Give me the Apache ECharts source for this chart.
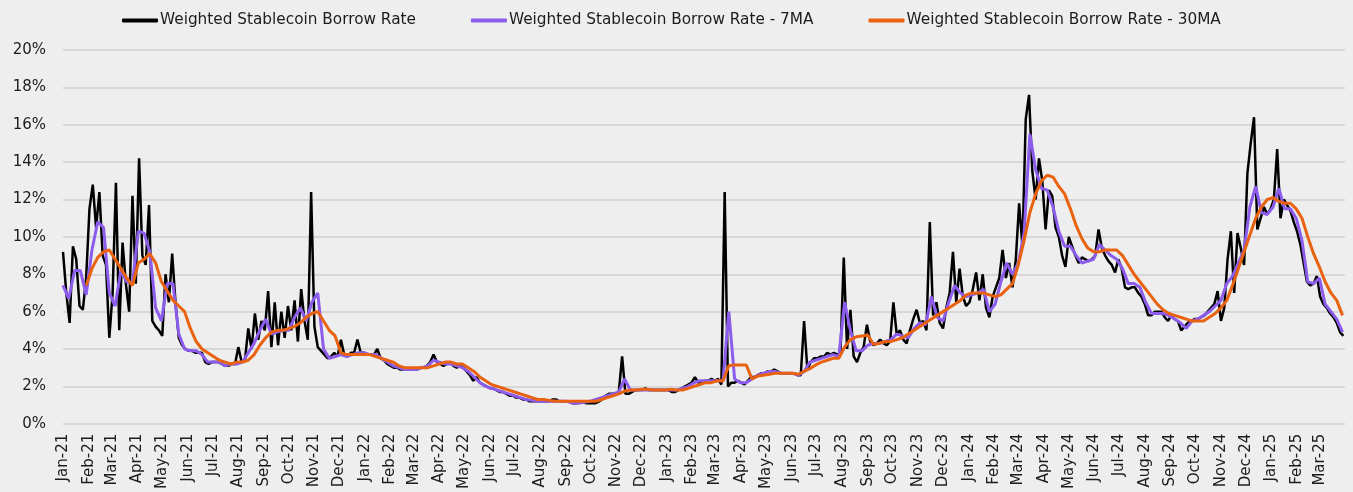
<!DOCTYPE html>
<html>
<head>
<meta charset="utf-8">
<script src="https://cdn.jsdelivr.net/npm/echarts@6/dist/echarts.min.js"></script>
<style>
  html, body { margin: 0; padding: 0; background: #eeeeee; }
  #chart { width: 1353px; height: 492px; }
</style>
</head>
<body>
<div id="chart"></div>
<script>
// daily axis: 2021-01-01 .. 2025-03-31
var startDate = Date.UTC(2021, 0, 1);
var dayCount = 1551;

// borrow rate (%), one reading every 4 days from 2021-01-01
var blackStep = 4;
var borrowRate = [
  9.2, 7.0, 5.4, 9.5, 8.8, 6.3, 6.1, 7.8, 11.5, 12.8, 10.5, 12.4, 9.0, 8.5, 4.6, 7.0,
  12.9, 5.0, 9.7, 7.5, 6.0, 12.2, 7.5, 14.2, 9.0, 8.5, 11.7, 5.5, 5.2, 5.0, 4.7, 8.0,
  6.5, 9.1, 6.5, 4.6, 4.2, 4.0, 3.9, 3.9, 3.8, 3.8, 3.8, 3.3, 3.2, 3.3, 3.3, 3.3,
  3.2, 3.1, 3.1, 3.2, 3.2, 4.1,
  3.3, 3.4, 5.1, 4.0, 5.9, 4.5, 5.5, 5.0, 7.1, 4.1, 6.5, 4.2, 6.0, 4.6, 6.3, 5.0,
  6.6, 4.4, 7.2, 5.5, 4.5, 12.4, 5.2, 4.1, 3.9, 3.7, 3.5, 3.6, 3.8, 3.6, 4.5, 3.7,
  3.6, 3.8, 3.8, 4.5, 3.8, 3.8, 3.7, 3.7, 3.7, 4.0, 3.5, 3.4, 3.2, 3.1, 3.0, 3.0,
  2.9, 2.9, 2.9, 2.9, 2.9, 2.9, 3.0, 3.0, 3.1, 3.3, 3.7, 3.3, 3.2, 3.1, 3.2, 3.3,
  3.1, 3.0,
  3.1, 3.0, 2.8, 2.6, 2.3, 2.5, 2.2, 2.1, 2.0, 1.9, 1.9, 1.8, 1.7, 1.7, 1.6, 1.5,
  1.5, 1.4, 1.4, 1.3, 1.3, 1.2, 1.2, 1.2, 1.2, 1.2, 1.2, 1.2, 1.3, 1.3, 1.2, 1.2,
  1.2, 1.2, 1.1, 1.1, 1.2, 1.2, 1.1, 1.1, 1.1, 1.1, 1.2, 1.3, 1.5, 1.6, 1.6, 1.6,
  1.7, 3.6, 1.6, 1.6, 1.7, 1.8, 1.8, 1.8, 1.9, 1.8, 1.8, 1.8, 1.8, 1.8,
  1.8, 1.8, 1.7, 1.7, 1.8, 1.9, 2.0, 2.1, 2.2, 2.5, 2.2, 2.2, 2.3, 2.3, 2.4, 2.3,
  2.4, 2.1, 12.4, 2.0, 2.2, 2.2, 2.3, 2.2, 2.1, 2.3, 2.5, 2.5, 2.6, 2.7, 2.7, 2.8,
  2.8, 2.9, 2.8, 2.7, 2.7, 2.7, 2.7, 2.7, 2.6, 2.6, 5.5, 2.9, 3.3, 3.5, 3.5, 3.6,
  3.6, 3.8, 3.7, 3.8, 3.7, 3.8, 8.9, 4.0, 6.1, 3.6, 3.3, 3.8, 4.1, 5.3, 4.4, 4.2,
  4.3, 4.5, 4.3, 4.2, 4.4, 6.5, 4.8,
  5.0, 4.5, 4.3, 5.0, 5.6, 6.1, 5.4, 5.5, 5.0, 10.8, 5.8, 6.5, 5.4, 5.1, 6.2, 7.0,
  9.2, 6.5, 8.3, 6.8, 6.3, 6.5, 7.2, 8.1, 6.6, 8.0, 6.2, 5.7, 6.8, 7.3, 7.8, 9.3,
  7.8, 8.6, 7.3, 8.8, 11.8, 9.5, 16.3, 17.6, 13.5, 12.0, 14.2, 13.0, 10.4, 12.5, 12.2, 10.5,
  10.0, 9.0, 8.4, 10.0, 9.5, 9.0, 8.6, 8.9, 8.8, 8.7, 8.8, 9.0, 10.4, 9.4, 9.0, 8.7,
  8.5, 8.1, 8.8,
  8.3, 7.3, 7.2, 7.3, 7.3, 7.0, 6.8, 6.4, 5.8, 5.8, 6.0, 6.0, 6.0, 5.7, 5.5, 5.8,
  5.6, 5.5, 5.0, 5.2, 5.4, 5.5, 5.6, 5.6, 5.7, 5.8, 6.0, 6.2, 6.4, 7.1, 5.5, 6.2,
  8.8, 10.3, 7.0, 10.2, 9.4, 8.5, 13.4, 15.0, 16.4, 10.4, 11.0, 11.6, 11.2, 11.5, 12.0, 14.7,
  11.0, 12.0, 11.7, 11.4, 10.8, 10.3, 9.6, 8.6, 7.6, 7.4, 7.5, 7.9, 6.8, 6.4, 6.2, 5.9,
  5.7, 5.4, 4.9, 4.7
];

// 7-day and 30-day moving averages (%), one reading per week
var weekStep = 7;
var rate7MA = [
  7.4, 6.7, 8.2, 8.2, 6.9, 9.3, 10.8, 10.5, 7.0, 6.3, 8.2, 7.6, 7.5, 10.3, 10.2, 9.2,
  6.2, 5.5, 7.5, 7.5, 4.8, 4.0, 3.9, 3.9, 3.7, 3.3, 3.3, 3.3, 3.1, 3.2, 3.2,
  3.3, 3.8, 4.3, 5.0, 5.6, 4.8, 4.9, 5.0, 5.0, 5.7, 6.2, 5.5, 6.5, 7.0, 4.0, 3.5,
  3.6, 3.7, 3.6, 3.7, 3.8, 3.8, 3.7, 3.7, 3.5, 3.3, 3.1, 3.0, 2.9, 2.9, 2.9, 3.0,
  3.1, 3.4, 3.3, 3.2, 3.2, 3.1,
  3.0, 2.8, 2.5, 2.2, 2.0, 1.9, 1.8, 1.7, 1.6, 1.5, 1.4, 1.3, 1.25, 1.2, 1.2, 1.2,
  1.2, 1.2, 1.2, 1.1, 1.1, 1.15, 1.2, 1.3, 1.4, 1.5, 1.6, 1.7, 2.4, 1.8, 1.8, 1.8,
  1.8, 1.8, 1.8, 1.8, 1.8,
  1.8, 1.9, 2.0, 2.2, 2.3, 2.3, 2.3, 2.3, 2.3, 6.0, 2.4, 2.2, 2.2, 2.4, 2.6, 2.7,
  2.8, 2.8, 2.7, 2.7, 2.7, 2.6, 2.8, 3.3, 3.4, 3.5, 3.6, 3.7, 3.6, 6.5, 5.0, 3.9,
  3.9, 4.2, 4.3, 4.3, 4.4, 4.5, 4.8,
  4.7, 4.6, 5.1, 5.4, 5.3, 6.8, 5.7, 5.5, 6.5, 7.4, 7.0, 6.8, 6.9, 7.0, 7.2, 6.0,
  6.4, 7.6, 8.6, 8.0, 8.6, 10.2, 15.5, 13.6, 12.6, 12.5, 11.6, 10.3, 9.5, 9.5, 9.0, 8.6,
  8.7, 8.8, 9.6, 9.3, 9.0, 8.8,
  8.3, 7.5, 7.5, 7.3, 6.5, 5.9, 5.9, 5.9, 5.8, 5.6, 5.4, 5.1, 5.5, 5.6, 5.8, 6.0,
  6.3, 6.6, 7.5, 7.9, 8.6, 9.3, 11.6, 12.7, 11.3, 11.2, 11.6, 12.6, 11.5, 11.5, 11.0, 9.8,
  7.6, 7.5, 7.8, 6.4, 6.0, 5.6, 4.9
];
var rate30MA = [
  null, null, null, null, 7.4, 8.3, 8.9, 9.2, 9.3, 8.8, 8.3, 7.8, 7.4, 8.6, 8.8, 9.1,
  8.6, 7.6, 7.1, 6.6, 6.3, 6.0, 5.1, 4.4, 4.0, 3.8, 3.6, 3.4, 3.3, 3.2, 3.3,
  3.3, 3.4, 3.7, 4.2, 4.6, 4.9, 5.0, 5.0, 5.1, 5.2, 5.4, 5.7, 5.9, 6.0, 5.5, 5.0,
  4.7, 3.8, 3.7, 3.7, 3.7, 3.7, 3.7, 3.6, 3.5, 3.4, 3.3, 3.1, 3.0, 3.0, 3.0, 3.0,
  3.0, 3.1, 3.2, 3.3, 3.3, 3.2,
  3.2, 3.0, 2.8, 2.5, 2.3, 2.1, 2.0, 1.9, 1.8, 1.7, 1.6, 1.5, 1.4, 1.3, 1.3, 1.25,
  1.2, 1.2, 1.2, 1.2, 1.2, 1.2, 1.2, 1.2, 1.3, 1.4, 1.5, 1.6, 1.75, 1.8, 1.8, 1.85,
  1.85, 1.8, 1.8, 1.8, 1.85,
  1.8, 1.8, 1.9, 2.0, 2.1, 2.2, 2.2, 2.3, 2.3, 3.1, 3.15, 3.15, 3.15, 2.4, 2.55, 2.6,
  2.65, 2.7, 2.7, 2.7, 2.7, 2.65, 2.8, 2.95, 3.15, 3.3, 3.4, 3.5, 3.5, 4.1, 4.5, 4.65,
  4.7, 4.75, 4.25, 4.3, 4.4, 4.4, 4.5,
  4.6, 4.8, 5.0, 5.2, 5.4, 5.6, 5.8, 6.0, 6.2, 6.4, 6.6, 6.9, 7.0, 7.0, 7.0, 6.9,
  6.8, 6.9, 7.2, 7.5, 8.5, 9.8, 11.3, 12.3, 13.0, 13.3, 13.2, 12.7, 12.3, 11.5, 10.6, 9.9,
  9.4, 9.2, 9.2, 9.3, 9.3, 9.3,
  9.0, 8.5, 8.0, 7.6, 7.2, 6.8, 6.4, 6.1, 5.9, 5.8, 5.7, 5.6, 5.5, 5.5, 5.5, 5.7,
  5.9, 6.2, 6.6, 7.4, 8.3, 9.2, 10.1, 11.0, 11.6, 12.0, 12.1, 11.9, 11.8, 11.8, 11.5, 11.0,
  10.0, 9.1, 8.4, 7.6, 7.0, 6.6, 5.8
];

var yTicks = { min: 0, max: 20, interval: 2 };
var monthNames = ['Jan', 'Feb', 'Mar', 'Apr', 'May', 'Jun', 'Jul', 'Aug', 'Sep', 'Oct', 'Nov', 'Dec'];

var days = [];
for (var i = 0; i < dayCount; i++) {
  days.push(new Date(startDate + i * 86400000).toISOString().slice(0, 10));
}

function toPoints(values, step) {
  var out = [];
  values.forEach(function (v, k) {
    if (v != null) out.push([k * step, v]);
  });
  return out;
}

var chart = echarts.init(document.getElementById('chart'));
var font = '"DejaVu Sans", sans-serif';
var ink = '#1c1c1c';

chart.setOption({
  backgroundColor: '#eeeeee',
  animation: false,
  color: ['#000000', '#8c5cec', '#e8620f'],
  legend: {
    top: 13,
    left: 122,
    padding: 0,
    itemWidth: 36,
    itemHeight: 4,
    itemGap: 55,
    icon: 'roundRect',
    textStyle: { color: ink, fontSize: 15.3, fontFamily: font, padding: [0, 0, 0, -3] },
    data: ['Weighted Stablecoin Borrow Rate', 'Weighted Stablecoin Borrow Rate - 7MA', 'Weighted Stablecoin Borrow Rate - 30MA']
  },
  grid: { left: 63, right: 8, top: 50, bottom: 65 },
  xAxis: {
    type: 'category',
    data: days,
    boundaryGap: false,
    axisLine: { show: false },
    axisTick: { show: false },
    axisLabel: {
      rotate: 90,
      margin: 10,
      color: ink,
      fontSize: 15,
      fontFamily: font,
      interval: function (index, value) { return value.slice(8) === '01'; },
      formatter: function (value) {
        return monthNames[+value.slice(5, 7) - 1] + '-' + value.slice(2, 4);
      }
    }
  },
  yAxis: {
    type: 'value',
    min: yTicks.min,
    max: yTicks.max,
    interval: yTicks.interval,
    axisLine: { show: false },
    axisTick: { show: false },
    axisLabel: { formatter: '{value}%', color: ink, fontSize: 15, fontFamily: font, margin: 17 },
    splitLine: { lineStyle: { color: '#cfcfcf', width: 1.5 } }
  },
  series: [{
    name: 'Weighted Stablecoin Borrow Rate',
    type: 'line',
    symbol: 'none',
    data: toPoints(borrowRate, blackStep),
    lineStyle: { width: 2.5, color: '#000000' }
  }, {
    name: 'Weighted Stablecoin Borrow Rate - 7MA',
    type: 'line',
    symbol: 'none',
    data: toPoints(rate7MA, weekStep),
    lineStyle: { width: 3, color: '#8c5cec' }
  }, {
    name: 'Weighted Stablecoin Borrow Rate - 30MA',
    type: 'line',
    symbol: 'none',
    data: toPoints(rate30MA, weekStep),
    lineStyle: { width: 3, color: '#e8620f' }
  }]
});
</script>
</body>
</html>
